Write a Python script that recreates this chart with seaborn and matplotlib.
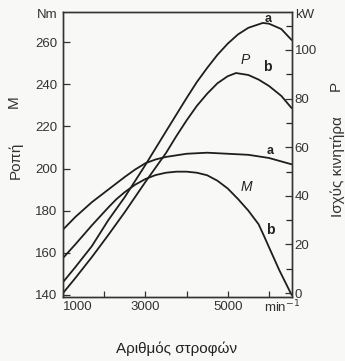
import matplotlib
matplotlib.use("Agg")
import matplotlib.pyplot as plt
import matplotlib.transforms as mtransforms
from matplotlib.ticker import MultipleLocator
import seaborn as sns
import pandas as pd

# ---- data ----
rpm_torque_a = [1000, 1300, 1700, 2100, 2500, 2750, 3000, 3250, 3500, 4000, 4500, 5000, 5500, 6000, 6550]
torque_a = [171, 177, 184, 190, 196, 199.5, 202.5, 204.3, 205.5, 207, 207.5, 207, 206.5, 205, 202]

rpm_torque_b = [1000, 1300, 1700, 2100, 2300, 2500, 2750, 3000, 3250, 3500, 3750, 4000, 4250, 4500, 4750, 5000,
                5250, 5500, 5750, 5875, 6000, 6250, 6550]
torque_b = [157.5, 164, 173, 181.5, 185.5, 188.8, 192.3, 195, 196.9, 198, 198.5, 198.5, 198, 196.8, 194.2, 190.5,
            185.5, 180, 173.5, 168.2, 162.7, 151.8, 140]

rpm_power_a = [1000, 1300, 1700, 2100, 2500, 3000, 3500, 4000, 4250, 4500, 4750, 5000, 5250, 5500, 5850,
               6000, 6300, 6550]
power_a = [4.5, 10.7, 19.3, 30, 39.5, 52.7, 66.5, 80.2, 86.8, 92.6, 98, 102.6, 106.4, 109.1, 111.1,
           110.8, 108.6, 104.1]

rpm_power_b = [1000, 1300, 1700, 2100, 2500, 3000, 3500, 3750, 4000, 4250, 4500, 4750, 5000, 5200, 5500,
               5750, 6000, 6300, 6550]
power_b = [0, 6.2, 14.8, 23.9, 33.3, 45.7, 57.6, 64.5, 71, 77, 82, 86.3, 89.2, 90.5, 89.7,
           87.8, 85.2, 81.1, 76.1]

torque_ticks = [140, 160, 180, 200, 220, 240, 260]
power_ticks = [0, 20, 40, 60, 80, 100]
rpm_ticks = [1000, 2000, 3000, 4000, 5000, 6000]
rpm_labels = ["1000", "", "3000", "", "5000", ""]

# ---- style ----
sns.set_style("ticks")
plt.rcParams["font.family"] = ["Liberation Sans", "DejaVu Sans"]

LINE = "#1e1e1e"
BG = "#f8f9f7"

fig = plt.figure(figsize=(3.45, 3.61), dpi=100, facecolor=BG)
ax = fig.add_axes([63 / 345, 1 - 297 / 361, (292 - 63) / 345, (297 - 12) / 361])
ax.set_facecolor(BG)
ax2 = ax.twinx()

df_ta = pd.DataFrame({"rpm": rpm_torque_a, "v": torque_a})
df_tb = pd.DataFrame({"rpm": rpm_torque_b, "v": torque_b})
df_pa = pd.DataFrame({"rpm": rpm_power_a, "v": power_a})
df_pb = pd.DataFrame({"rpm": rpm_power_b, "v": power_b})

for d in (df_ta, df_tb):
    sns.lineplot(data=d, x="rpm", y="v", ax=ax, color=LINE, linewidth=1.3, sort=False)
for d in (df_pa, df_pb):
    sns.lineplot(data=d, x="rpm", y="v", ax=ax2, color=LINE, linewidth=1.3, sort=False)

for a in (ax, ax2):
    for ln in a.get_lines():
        ln.set_solid_joinstyle("round")

ax.set_xlim(1000, 6560)
ax.set_ylim(139, 274.3)
ax2.set_ylim(-1.6, 115.6)

ax.set_xlabel("")
ax.set_ylabel("")
ax2.set_ylabel("")

ax.set_xticks(rpm_ticks)
ax.set_xticklabels(rpm_labels)
ax.get_xticklabels()[0].set_horizontalalignment("left")
ax.set_yticks(torque_ticks)
ax2.set_yticks(power_ticks)
ax2.yaxis.set_minor_locator(MultipleLocator(10))

ax.tick_params(axis="x", direction="in", length=4, width=0.9, pad=3, labelsize=9.5, colors="#333333")
ax.tick_params(axis="y", direction="in", length=5, width=0.9, pad=4, labelsize=9.5, colors="#333333")
ax2.tick_params(axis="y", which="major", direction="in", length=5, width=0.9, pad=2, labelsize=9.5, colors="#333333")
ax2.tick_params(axis="y", which="minor", direction="in", length=4, width=0.9)

for a in (ax, ax2):
    for s in a.spines.values():
        s.set_visible(True)
        s.set_color("#333333")
        s.set_linewidth(1.0)

# unit labels
ax.text(-0.025, 0.99, "Nm", transform=ax.transAxes, ha="right", va="center", fontsize=9.5, color="#333333")
ax.text(1.015, 0.99, "kW", transform=ax.transAxes, ha="left", va="center", fontsize=9.5, color="#333333")
trans = mtransforms.blended_transform_factory(ax.transData, ax.transAxes)
ax.text(5880, -0.036, "min$^{-1}$", transform=trans, ha="left", va="center", fontsize=9.5, color="#333333")

# curve labels
ax.text(6024, 208.3, "a", ha="center", va="center", fontsize=9, fontweight="bold", color="#222222")
ax.text(5439, 191.2, "M", ha="center", va="center", fontsize=10, fontstyle="italic", color="#222222")
ax.text(6024, 170.8, "b", ha="center", va="center", fontsize=10, fontweight="bold", color="#222222")
ax2.text(5976, 112.6, "a", ha="center", va="center", fontsize=9, fontweight="bold", color="#222222")
ax2.text(5415, 95.9, "P", ha="center", va="center", fontsize=10, fontstyle="italic", color="#222222")
ax2.text(5951, 93.0, "b", ha="center", va="center", fontsize=10, fontweight="bold", color="#222222")

# axis titles
fig.text(177 / 345, 1 - 349 / 361, "Αριθμός στροφών", ha="center", va="center", fontsize=11, color="#222222")
fig.text(15 / 345, 1 - 160 / 361, "Ροπή", ha="center", va="center", rotation=90, fontsize=11, color="#333333")
fig.text(14 / 345, 1 - 102 / 361, "M", ha="center", va="center", rotation=90, fontsize=11, color="#333333")
fig.text(338 / 345, 1 - 167 / 361, "Ισχύς κινητήρα", ha="center", va="center", rotation=90, fontsize=11, color="#333333")
fig.text(336 / 345, 1 - 86 / 361, "P", ha="center", va="center", rotation=90, fontsize=11, color="#333333")

fig.savefig("out.png", dpi=100, facecolor=BG)
